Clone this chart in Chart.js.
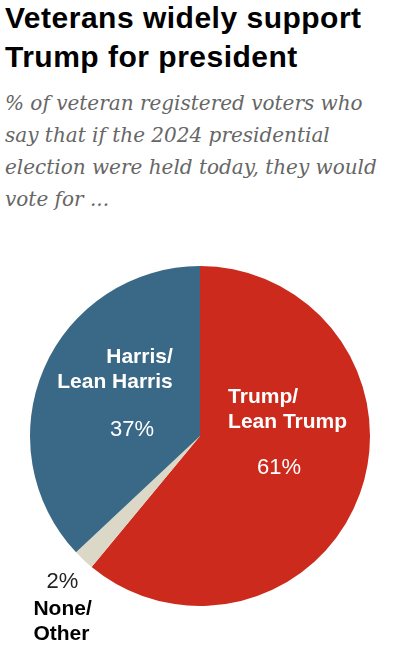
<!DOCTYPE html>
<html>
<head>
<meta charset="utf-8">
<script src="https://cdn.jsdelivr.net/npm/chart.js@4.4.1/dist/chart.umd.min.js"></script>
<style>
    html, body { margin: 0; padding: 0; background: #fff; }
    body { width: 400px; height: 666px; position: relative; overflow: hidden; }
    h1 {
        position: absolute; left: 5px; top: -2px; margin: 0;
        font-family: "Liberation Sans", Arial, sans-serif; font-weight: bold;
        font-size: 30px; line-height: 39px; color: #000; letter-spacing: 0.5px;
        white-space: nowrap;
    }
    .sub {
        position: absolute; left: 5px; top: 87px; margin: 0;
        font-family: "DejaVu Serif", Georgia, serif; font-style: italic;
        font-size: 20px; line-height: 32px; color: #666; white-space: nowrap;
    }
    #wrap { position: absolute; left: 0; top: 250px; width: 400px; height: 416px; }
</style>
</head>
<body>
<h1>Veterans widely support<br>Trump for president</h1>
<p class="sub">% of veteran registered voters who<br>say that if the 2024 presidential<br>election were held today, they would<br>vote for ...</p>
<div id="wrap"><canvas id="pieChart"></canvas></div>
<script>
// Data
const categories = ['Trump/\nLean Trump', 'None/\nOther', 'Harris/\nLean Harris'];
const shares = [61, 2, 37];
const sliceColors = ['#cc2a1c', '#dcd8c8', '#3a6987'];

// Label placement, in units of the pie radius from its centre
const labelSpots = [
    { name: { x: 0.165, y: -0.23, align: 'left', color: '#fff' }, pct: { x: 0.465, y: 0.19, color: '#fff' } },
    { name: { x: -0.98, y: 1.02, align: 'left', color: '#000' }, pct: { x: -0.81, y: 0.86, color: '#222' } },
    { name: { x: -0.16, y: -0.465, align: 'right', color: '#fff' }, pct: { x: -0.4, y: -0.035, color: '#fff' } }
];

// Draw the category names and percentages on top of the slices
const pieLabels = {
    id: 'pieLabels',
    afterDatasetsDraw(chart) {
        const ctx = chart.ctx;
        const arcs = chart.getDatasetMeta(0).data;
        ctx.save();
        ctx.textBaseline = 'middle';
        arcs.forEach((arc, i) => {
            const r = arc.outerRadius;
            const spot = labelSpots[i];
            // name, two lines
            ctx.font = 'bold 21px "Liberation Sans", Arial, sans-serif';
            ctx.fillStyle = spot.name.color;
            ctx.textAlign = spot.name.align;
            const lines = chart.data.labels[i].split('\n');
            lines.forEach((line, k) => {
                ctx.fillText(line, arc.x + spot.name.x * r, arc.y + spot.name.y * r + k * 25);
            });
            // percentage
            ctx.font = '22px "Liberation Sans", Arial, sans-serif';
            ctx.fillStyle = spot.pct.color;
            ctx.textAlign = 'center';
            ctx.fillText(chart.data.datasets[0].data[i] + '%', arc.x + spot.pct.x * r, arc.y + spot.pct.y * r);
        });
        ctx.restore();
    }
};

new Chart(document.getElementById('pieChart'), {
    type: 'pie',
    data: {
        labels: categories,
        datasets: [{
            data: shares,
            backgroundColor: sliceColors,
            borderWidth: 0
        }]
    },
    options: {
        responsive: true,
        maintainAspectRatio: false,
        animation: false,
        layout: { padding: { top: 16, bottom: 60, left: 30, right: 30 } },
        plugins: {
            legend: { display: false },
            tooltip: { enabled: false }
        }
    },
    plugins: [pieLabels]
});
</script>
</body>
</html>
